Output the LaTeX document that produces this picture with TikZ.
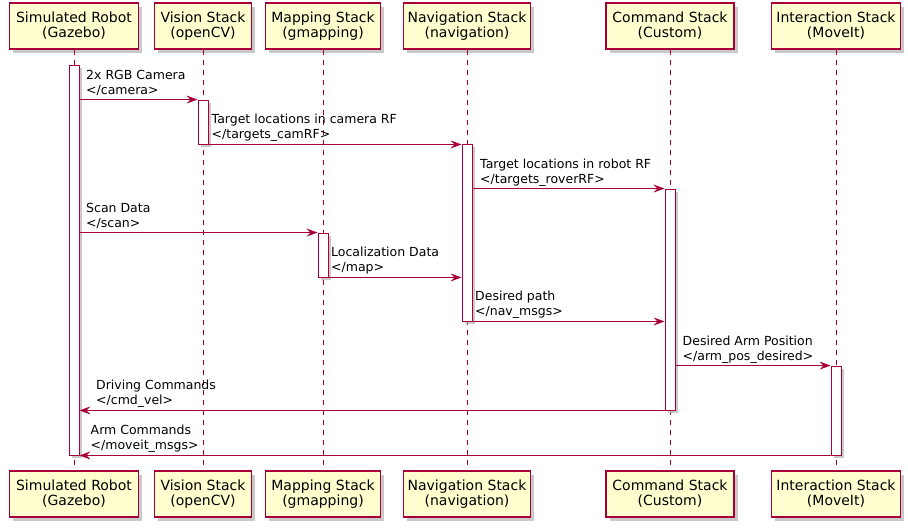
\documentclass[tikz,border=0pt]{standalone}
\usepackage{fontspec}
\setmainfont{DejaVu Sans}
\usetikzlibrary{arrows.meta,shadows}
\definecolor{uml_red}{HTML}{A80036}
\definecolor{uml_yellow}{HTML}{FEFECE}

\begin{document}
\begin{tikzpicture}[x=1pt, y=-1pt,
        part_box/.style={rectangle, draw=uml_red, fill=uml_yellow, line width=1.1pt, minimum height=46pt, align=center, font=\fontsize{14}{15}\selectfont, drop shadow={shadow xshift=3.5pt, shadow yshift=-3.5pt, fill=black!30, opacity=0.7}},
        act_bar/.style={rectangle, draw=uml_red, fill=white, line width=0.9pt, minimum width=10pt, inner sep=0pt, drop shadow={shadow xshift=3pt, shadow yshift=-3pt, fill=black!30, opacity=0.7}},
        life_line/.style={draw=uml_red, line width=0.8pt, dash pattern=on 5pt off 5pt},
        msg_arrow/.style={draw=uml_red, line width=0.8pt, -{Stealth[length=11pt, width=8pt, inset=4pt]}},
        msg_label/.style={anchor=south west, inner sep=0pt, align=left, text depth=3pt, font=\fontsize{12.5}{14.5}\selectfont}
        ]
            \useasboundingbox (0,0) rectangle (908,528);

            % participants
            \node[part_box, minimum width=129pt] (robot_top) at (74,26)  {Simulated Robot\\(Gazebo)};
            \node[part_box, minimum width=97pt]  (vision_top) at (203,26) {Vision Stack\\(openCV)};
            \node[part_box, minimum width=115pt] (map_top) at (323,26)   {Mapping Stack\\(gmapping)};
            \node[part_box, minimum width=127pt] (nav_top) at (467,26)   {Navigation Stack\\(navigation)};
            \node[part_box, minimum width=128pt] (cmd_top) at (670,26)   {Command Stack\\(Custom)};
            \node[part_box, minimum width=129pt] (inter_top) at (836,26) {Interaction Stack\\(MoveIt)};

            \node[part_box, minimum width=129pt] (robot_bot) at (74,494)  {Simulated Robot\\(Gazebo)};
            \node[part_box, minimum width=97pt]  (vision_bot) at (203,494) {Vision Stack\\(openCV)};
            \node[part_box, minimum width=115pt] (map_bot) at (323,494)   {Mapping Stack\\(gmapping)};
            \node[part_box, minimum width=127pt] (nav_bot) at (467,494)   {Navigation Stack\\(navigation)};
            \node[part_box, minimum width=128pt] (cmd_bot) at (670,494)   {Command Stack\\(Custom)};
            \node[part_box, minimum width=129pt] (inter_bot) at (836,494) {Interaction Stack\\(MoveIt)};

            % lifelines
            \draw[life_line] (robot_top) -- (robot_bot);
            \draw[life_line] (vision_top) -- (vision_bot);
            \draw[life_line] (map_top) -- (map_bot);
            \draw[life_line] (nav_top) -- (nav_bot);
            \draw[life_line] (cmd_top) -- (cmd_bot);
            \draw[life_line] (inter_top) -- (inter_bot);

            % activations
            \node[act_bar, minimum height=390pt] (bar_robot) at (74,260)    {};
            \node[act_bar, minimum height=44pt]  (bar_vision) at (203,122)  {};
            \node[act_bar, minimum height=177pt] (bar_nav) at (467,232.5)   {};
            \node[act_bar, minimum height=221pt] (bar_cmd) at (670,299.5)   {};
            \node[act_bar, minimum height=44pt]  (bar_map) at (323,255)     {};
            \node[act_bar, minimum height=89pt]  (bar_inter) at (836,410.5) {};

            % messages
            \draw[msg_arrow] (bar_robot.east |- bar_vision.north west) -- (bar_vision.north west);
            \draw[msg_arrow] (bar_vision.south east) -- (bar_nav.west |- bar_vision.south east);
            \draw[msg_arrow] (bar_nav.east |- bar_cmd.north west) -- (bar_cmd.north west);
            \draw[msg_arrow] (bar_robot.east |- bar_map.north west) -- (bar_map.north west);
            \draw[msg_arrow] (bar_map.south east) -- (bar_nav.west |- bar_map.south east);
            \draw[msg_arrow] (bar_nav.south east) -- (bar_cmd.west |- bar_nav.south east);
            \draw[msg_arrow] (bar_cmd.east |- bar_inter.north west) -- (bar_inter.north west);
            \draw[msg_arrow] (bar_cmd.south west) -- (bar_robot.east |- bar_cmd.south west);
            \draw[msg_arrow] (bar_inter.south west) -- (bar_robot.south east);

            % text
            \node[msg_label] (lbl_camera) at (86,97.5)   {2x RGB Camera\\</camera>};
            \node[msg_label] (lbl_camrf) at (211.5,141.5) {Target locations in camera RF\\</targets\_camRF>};
            \node[msg_label] (lbl_roverrf) at (480,186.5) {Target locations in robot RF\\</targets\_roverRF>};
            \node[msg_label] (lbl_scan) at (86,230.5)     {Scan Data\\</scan>};
            \node[msg_label] (lbl_map) at (331,274.5)     {Localization Data\\</map>};
            \node[msg_label] (lbl_nav) at (475,318.5)     {Desired path\\</nav\_msgs>};
            \node[msg_label] (lbl_arm) at (682.5,363.5)   {Desired Arm Position\\</arm\_pos\_desired>};
            \node[msg_label] (lbl_cmdvel) at (96,407.5)   {Driving Commands\\</cmd\_vel>};
            \node[msg_label] (lbl_moveit) at (90.5,452.5) {Arm Commands\\</moveit\_msgs>};
        \end{tikzpicture}
\end{document}
